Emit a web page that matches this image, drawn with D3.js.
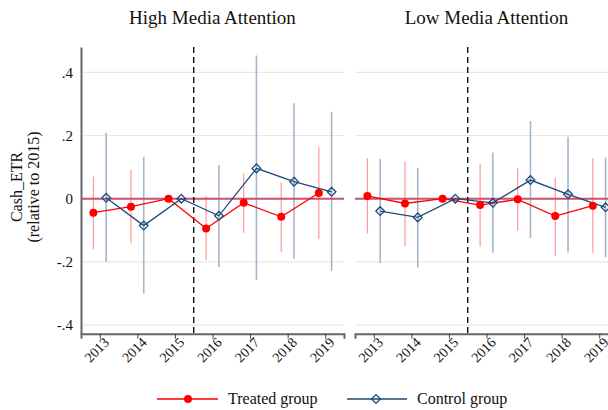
<!DOCTYPE html>
<html><head><meta charset="utf-8">
<script src="https://cdn.jsdelivr.net/npm/d3@7"></script>
<style>body{margin:0;background:#fff}svg{display:block}text{font-family:"Liberation Serif","Times New Roman",serif;fill:#111}</style>
</head><body><svg id="c" width="608" height="410"></svg>
<script>
const years = [2013, 2014, 2015, 2016, 2017, 2018, 2019];
const panelTitles = ["High Media Attention", "Low Media Attention"];
const yTicks = [-0.4, -0.2, 0, 0.2, 0.4];
const yTickLabels = ["-.4", "-.2", "0", ".2", ".4"];
const seriesNames = ["Treated group", "Control group"];

const highTreated   = [-0.044, -0.025, 0, -0.094, -0.013, -0.057, 0.018];
const highTreatedLo = [-0.160, -0.141, null, -0.194, -0.108, -0.168, -0.128];
const highTreatedHi = [0.070, 0.091, null, 0.009, 0.080, 0.052, 0.163];
const highControl   = [0.003, -0.085, 0, -0.054, 0.096, 0.054, 0.022];
const highControlLo = [-0.200, -0.300, null, -0.217, -0.257, -0.190, -0.228];
const highControlHi = [0.209, 0.133, null, 0.107, 0.453, 0.302, 0.275];

const lowTreated   = [0.009, -0.015, 0, -0.020, -0.002, -0.055, -0.022];
const lowTreatedLo = [-0.110, -0.150, null, -0.152, -0.101, -0.181, -0.171];
const lowTreatedHi = [0.128, 0.119, null, 0.110, 0.096, 0.066, 0.128];
const lowControl   = [-0.039, -0.059, 0, -0.013, 0.059, 0.014, -0.027];
const lowControlLo = [-0.203, -0.217, null, -0.170, -0.125, -0.170, -0.185];
const lowControlHi = [0.126, 0.098, null, 0.146, 0.246, 0.196, 0.130];

const panels = [
  {title: panelTitles[0], x0: 81, x1: 344, axis: true,
   t: highTreated, tl: highTreatedLo, th: highTreatedHi, c: highControl, cl: highControlLo, ch: highControlHi},
  {title: panelTitles[1], x0: 355, x1: 618, axis: false,
   t: lowTreated, tl: lowTreatedLo, th: lowTreatedHi, c: lowControl, cl: lowControlLo, ch: lowControlHi}
];

const RED = "#ff0000", RED_CI = "#ff9f9f", NAVY = "#1b4a79", BLUE_CI = "#a4b7cb", ZERO = "#c9506f";
const svg = d3.select("#c");
const y = d3.scaleLinear().domain([-0.427, 0.48]).range([333.7, 47]);
const off = 0.17;

panels.forEach(p => {
  const x = d3.scaleLinear().domain([2012.5, 2019.5]).range([p.x0, p.x1]);
  const g = svg.append("g");
  g.selectAll(".grid").data(yTicks.filter(v => v !== 0)).enter().append("line")
    .attr("x1", p.x0).attr("x2", p.x1).attr("y1", d => y(d)).attr("y2", d => y(d))
    .attr("stroke", "#e8e8e8").attr("stroke-width", 1.2);
  g.append("text").attr("x", (p.x0 + p.x1) / 2).attr("y", 24).attr("text-anchor", "middle")
    .attr("font-size", 19).text(p.title);
  const ci = (lo, hi, dx, col, w) => {
    g.selectAll(null).data(years.map((yr, i) => ({yr, lo: lo[i], hi: hi[i]})).filter(d => d.lo !== null))
      .enter().append("line")
      .attr("x1", d => x(d.yr + dx)).attr("x2", d => x(d.yr + dx))
      .attr("y1", d => y(d.lo)).attr("y2", d => y(d.hi))
      .attr("stroke", col).attr("stroke-width", w);
  };
  ci(p.tl, p.th, -off, RED_CI, 1.3);
  ci(p.cl, p.ch, off, BLUE_CI, 1.6);
  g.append("line").attr("x1", p.x0).attr("x2", p.x1).attr("y1", y(0)).attr("y2", y(0))
    .attr("stroke", ZERO).attr("stroke-width", 2.2);
  g.append("line").attr("x1", x(2015.5)).attr("x2", x(2015.5)).attr("y1", y(0.48)).attr("y2", y(-0.427))
    .attr("stroke", "#111").attr("stroke-width", 1.4).attr("stroke-dasharray", "6,4");
  const tData = years.map((yr, i) => [yr - off, p.t[i]]);
  const cData = years.map((yr, i) => [yr + off, p.c[i]]);
  const line = d3.line().x(d => x(d[0])).y(d => y(d[1]));
  g.append("path").attr("d", line(tData)).attr("fill", "none").attr("stroke", RED).attr("stroke-width", 1.3);
  g.append("path").attr("d", line(cData)).attr("fill", "none").attr("stroke", NAVY).attr("stroke-width", 1.3);
  g.selectAll(null).data(tData).enter().append("circle")
    .attr("cx", d => x(d[0])).attr("cy", d => y(d[1])).attr("r", 4).attr("fill", RED);
  const diamond = d3.symbol().type(d3.symbolDiamond2).size(48);
  g.selectAll(null).data(cData).enter().append("path")
    .attr("d", diamond).attr("transform", d => `translate(${x(d[0])},${y(d[1])})`)
    .attr("fill", "none").attr("stroke", NAVY).attr("stroke-width", 1.3);
  const xa = g.append("g").attr("transform", `translate(0,${y(-0.427)})`)
    .call(d3.axisBottom(x).tickValues(years).tickFormat(d3.format("d")).tickSizeOuter(0).tickSize(5));
  xa.select(".domain").attr("stroke", "#666").attr("stroke-width", 2);
  xa.selectAll(".tick line").attr("stroke", "#444");
  xa.selectAll(".tick text").attr("font-size", 14).attr("font-family", "Liberation Serif")
    .attr("fill", "#111").attr("text-anchor", "end")
    .attr("transform", "translate(3,1) rotate(-45)").attr("dy", "0.35em").attr("dx", "-0.1em").attr("y", 6).attr("x", 0);
  if (p.axis) {
    const ya = g.append("g").attr("transform", `translate(${p.x0},0)`)
      .call(d3.axisLeft(y).tickValues(yTicks).tickFormat((d, i) => yTickLabels[i]).tickSize(0).tickPadding(8).tickSizeOuter(0));
    ya.select(".domain").attr("stroke", "#666").attr("stroke-width", 2);
    ya.selectAll(".tick text").attr("font-size", 15).attr("font-family", "Liberation Serif").attr("fill", "#111");
  }
});

const yt = svg.append("g").attr("transform", "translate(0,187) rotate(-90)");
yt.append("text").attr("x", 0).attr("y", 22).attr("text-anchor", "middle").attr("font-size", 16).text("Cash_ETR");
yt.append("text").attr("x", 0).attr("y", 39).attr("text-anchor", "middle").attr("font-size", 16).text("(relative to 2015)");

const lg = svg.append("g");
const ly = 399;
lg.append("line").attr("x1", 157).attr("x2", 218).attr("y1", ly).attr("y2", ly).attr("stroke", RED).attr("stroke-width", 1.3);
lg.append("circle").attr("cx", 188).attr("cy", ly).attr("r", 4).attr("fill", RED);
lg.append("text").attr("x", 228).attr("y", ly + 5).attr("font-size", 16).text(seriesNames[0]);
lg.append("line").attr("x1", 347).attr("x2", 407).attr("y1", ly).attr("y2", ly).attr("stroke", NAVY).attr("stroke-width", 1.3);
lg.append("path").attr("d", d3.symbol().type(d3.symbolDiamond2).size(48)()).attr("transform", `translate(376,${ly})`)
  .attr("fill", "none").attr("stroke", NAVY).attr("stroke-width", 1.3);
lg.append("text").attr("x", 417).attr("y", ly + 5).attr("font-size", 16).text(seriesNames[1]);
</script></body></html>
